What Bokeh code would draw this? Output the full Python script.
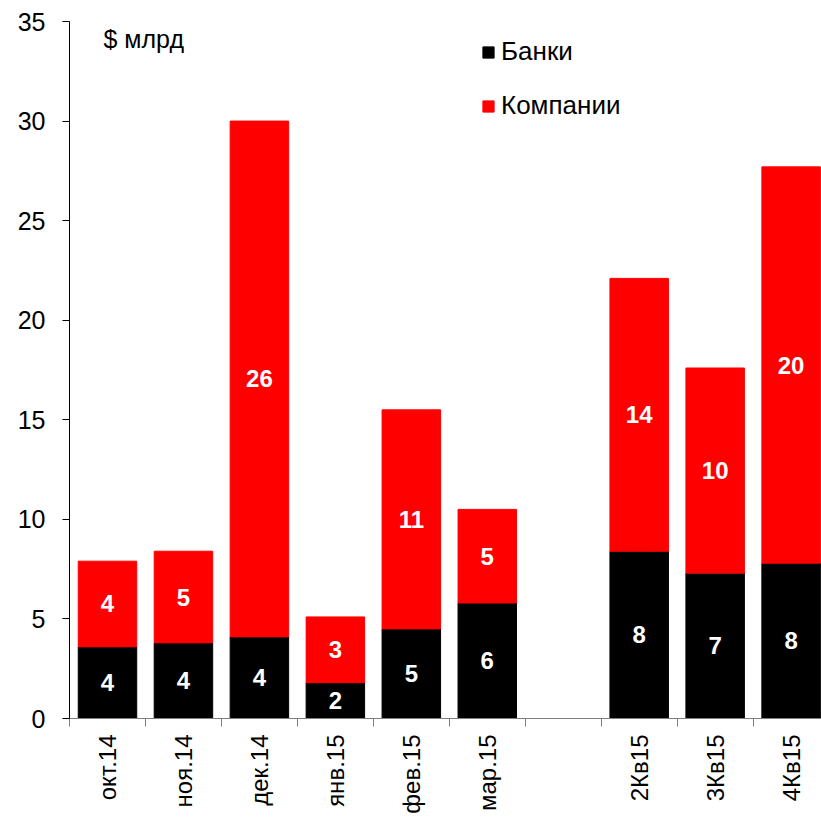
import math
from bokeh.plotting import figure
from bokeh.models import (ColumnDataSource, Range1d, FixedTicker, Legend,
                          LegendItem, Label)
from bokeh.core.properties import value
from bokeh.embed import file_html
from bokeh.resources import INLINE

# ---- data ----
categories = ["окт.14", "ноя.14", "дек.14", "янв.15", "фев.15", "мар.15",
              "", "2Кв15", "3Кв15", "4Кв15"]
banks = [3.6, 3.8, 4.1, 1.8, 4.5, 5.8, None, 8.4, 7.3, 7.8]
companies = [4.3, 4.6, 25.9, 3.3, 11.0, 4.7, None, 13.7, 10.3, 19.9]
y_ticks = [0, 5, 10, 15, 20, 25, 30, 35]
series_names = ["Банки", "Компании"]
unit_label = "$ млрд"

FONT = "Liberation Sans"
RED = "#FF0000"

def rnd(v):
    return int(math.floor(v + 0.5))

idx = [i for i, c in enumerate(categories) if c]
src = ColumnDataSource(dict(
    x=[i + 0.5 for i in idx],
    banks=[banks[i] for i in idx],
    companies=[companies[i] for i in idx],
    bank_mid=[banks[i] / 2 for i in idx],
    comp_mid=[banks[i] + companies[i] / 2 for i in idx],
    bank_txt=[str(rnd(banks[i])) for i in idx],
    comp_txt=[str(rnd(companies[i])) for i in idx],
))

p = figure(width=821, height=818, output_backend="svg", toolbar_location=None,
           x_range=Range1d(0, 9.9), y_range=Range1d(0, 35),
           min_border_left=69, min_border_right=0, min_border_top=21,
           min_border_bottom=100)
p.outline_line_color = None
p.xgrid.visible = False
p.ygrid.visible = False
p.background_fill_color = "white"
p.border_fill_color = "white"

renderers = p.vbar_stack(["banks", "companies"], x="x", width=0.77,
                         color=["black", RED], line_color=["black", RED],
                         source=src)

for ycol, tcol in (("bank_mid", "bank_txt"), ("comp_mid", "comp_txt")):
    p.text(x="x", y=ycol, text=tcol, source=src,
           text_color="white", text_font=value(FONT), text_font_size="24px",
           text_font_style="bold", text_align="center", text_baseline="middle")

# y axis
ya = p.yaxis[0]
ya.ticker = FixedTicker(ticks=y_ticks)
ya.major_label_text_font = FONT
ya.major_label_text_font_size = "25px"
ya.major_label_text_color = "black"
ya.major_tick_out = 7
ya.major_tick_in = 0
ya.minor_tick_out = 0
ya.minor_tick_in = 0
ya.axis_line_color = "black"
ya.major_tick_line_color = "black"
ya.major_label_standoff = 17

# x axis
xa = p.xaxis[0]
xa.ticker = FixedTicker(ticks=[i + 0.5 for i in idx],
                        minor_ticks=list(range(len(categories) + 1)))
xa.major_label_overrides = {i + 0.5: categories[i] for i in idx}
xa.major_label_orientation = math.pi / 2
xa.major_label_text_font = FONT
xa.major_label_text_font_size = "24px"
xa.major_label_text_color = "black"
xa.major_tick_out = 0
xa.major_tick_in = 0
xa.minor_tick_out = 8
xa.minor_tick_in = 0
xa.minor_tick_line_color = "#808080"
xa.axis_line_color = "#808080"
xa.major_label_standoff = 8

# unit label
p.add_layout(Label(x=34, y=680, x_units="screen", y_units="screen",
                   text=unit_label, text_font=FONT, text_font_size="25px",
                   text_color="black", text_baseline="alphabetic"))

legend = Legend(items=[LegendItem(label=series_names[0], renderers=[renderers[0]]),
                       LegendItem(label=series_names[1], renderers=[renderers[1]])],
                location=(412, 597), orientation="vertical",
                glyph_width=14, glyph_height=14, label_standoff=6,
                label_text_font=FONT, label_text_font_size="26px",
                label_text_color="black", spacing=23, padding=0, margin=0,
                border_line_alpha=0, background_fill_alpha=0)
p.add_layout(legend)

open("out.html", "w").write(file_html(p, INLINE))
